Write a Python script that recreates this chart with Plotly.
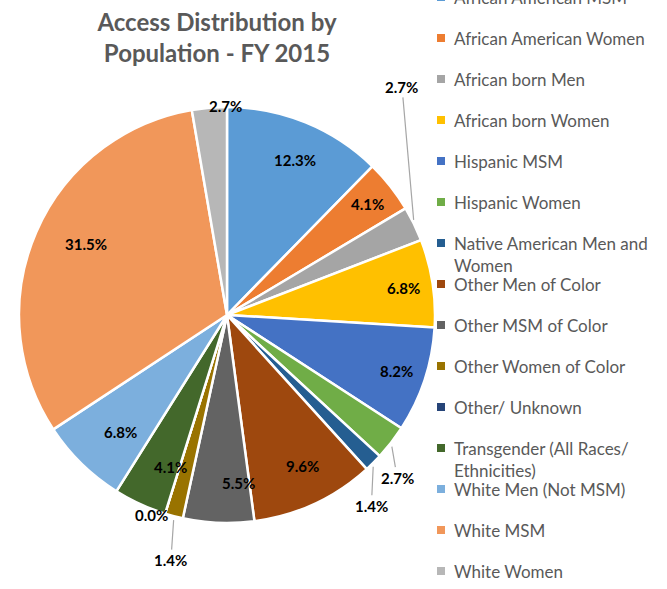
import math
import plotly.graph_objects as go

categories = [
    "African American MSM", "African American Women", "African born Men",
    "African born Women", "Hispanic MSM", "Hispanic Women",
    "Native American Men and Women", "Other Men of Color", "Other MSM of Color",
    "Other Women of Color", "Other/ Unknown", "Transgender (All Races/ Ethnicities)",
    "White Men (Not MSM)", "White MSM", "White Women",
]
values = [12.3, 4.1, 2.7, 6.8, 8.2, 2.7, 1.4, 9.6, 5.5, 1.4, 0.0, 4.1, 6.8, 31.5, 2.7]
legend_labels = [
    "African American MSM", "African American Women", "African born Men",
    "African born Women", "Hispanic MSM", "Hispanic Women",
    "Native American Men and<br>Women", "Other Men of Color", "Other MSM of Color",
    "Other Women of Color", "Other/ Unknown", "Transgender (All Races/<br>Ethnicities)",
    "White Men (Not MSM)", "White MSM", "White Women",
]

colors = ["#5B9BD5", "#ED7D31", "#A5A5A5", "#FFC000", "#4472C4", "#70AD47",
          "#255E91", "#9E480E", "#636363", "#997300", "#264478", "#43682B",
          "#7CAFDD", "#F1975A", "#B7B7B7"]

# label placement style: (dx, dy, arrow) = outside offset in px from slice edge
outside_style = {2: (-12, -137, True), 5: (6, 35, True), 6: (-2, 43, True),
                 9: (-3, 44, True), 10: (-32, 12, False), 14: (-2, -13, False)}
inside_frac = 0.86

W, H = 667, 589
CX, CY, R = 227, 315, 208
FONT = "Lato"

fig = go.Figure(go.Pie(
    labels=categories, values=values, sort=False, direction="clockwise",
    rotation=0, textinfo="none", hoverinfo="label+percent",
    marker=dict(colors=colors, line=dict(color="white", width=2.5)),
    domain=dict(x=[(CX - R) / W, (CX + R) / W],
                y=[(H - CY - R) / H, (H - CY + R) / H]),
    showlegend=False,
))

def px2paper(x, y):
    return x / W, 1 - y / H

LABEL_FONT = dict(family=FONT, size=15, color="black")
annotations = []
total = sum(values)
cum = 0.0
for i, v in enumerate(values):
    mid = (cum + v / 2) / total * 2 * math.pi
    cum += v
    txt = f"<b>{v:.1f}%</b>"
    if i in outside_style:
        dx, dy, arrow = outside_style[i]
        ex, ey = CX + R * math.sin(mid), CY - R * math.cos(mid)
        if arrow:
            px, py = px2paper(ex, ey)
            annotations.append(dict(
                x=px, y=py, xref="paper", yref="paper", text=txt,
                showarrow=True, arrowhead=0, arrowwidth=1.2, arrowcolor="#A6A6A6",
                ax=dx, ay=dy, standoff=4, font=LABEL_FONT))
        else:
            px, py = px2paper(ex + dx, ey + dy)
            annotations.append(dict(
                x=px, y=py, xref="paper", yref="paper", text=txt,
                showarrow=False, font=LABEL_FONT))
    else:
        lx = CX + inside_frac * R * math.sin(mid)
        ly = CY - inside_frac * R * math.cos(mid)
        px, py = px2paper(lx, ly)
        annotations.append(dict(
            x=px, y=py, xref="paper", yref="paper", text=txt,
            showarrow=False, font=LABEL_FONT))

# legend drawn as annotations + square swatches
shapes = []
LEG_X, LEG_Y0, LEG_STEP = 452, -3, 41
for i, (lab, col) in enumerate(zip(legend_labels, colors)):
    yc = LEG_Y0 + i * LEG_STEP
    px, py = px2paper(LEG_X, yc - 12)
    annotations.append(dict(
        x=px, y=py, xref="paper", yref="paper", text=lab, showarrow=False,
        xanchor="left", yanchor="top", align="left",
        font=dict(family=FONT, size=17, color="#595959")))
    x0, y0 = px2paper(437, yc - 4)
    x1, y1 = px2paper(445, yc + 4)
    shapes.append(dict(type="rect", xref="paper", yref="paper",
                       x0=x0, x1=x1, y0=y1, y1=y0,
                       fillcolor=col, line=dict(width=0)))

fig.update_layout(
    width=W, height=H,
    margin=dict(l=0, r=0, t=0, b=0),
    paper_bgcolor="white", plot_bgcolor="white",
    title=dict(text="<b>Access Distribution by<br>Population - FY 2015</b>",
               x=217 / W, xanchor="center", y=1 - 31 / H, yanchor="middle",
               yref="container",
               font=dict(family=FONT, size=24, color="#595959")),
    annotations=annotations, shapes=shapes,
)

fig.write_html("out.html", config={"displayModeBar": False},
               post_script="document.body.style.margin='0px';")
